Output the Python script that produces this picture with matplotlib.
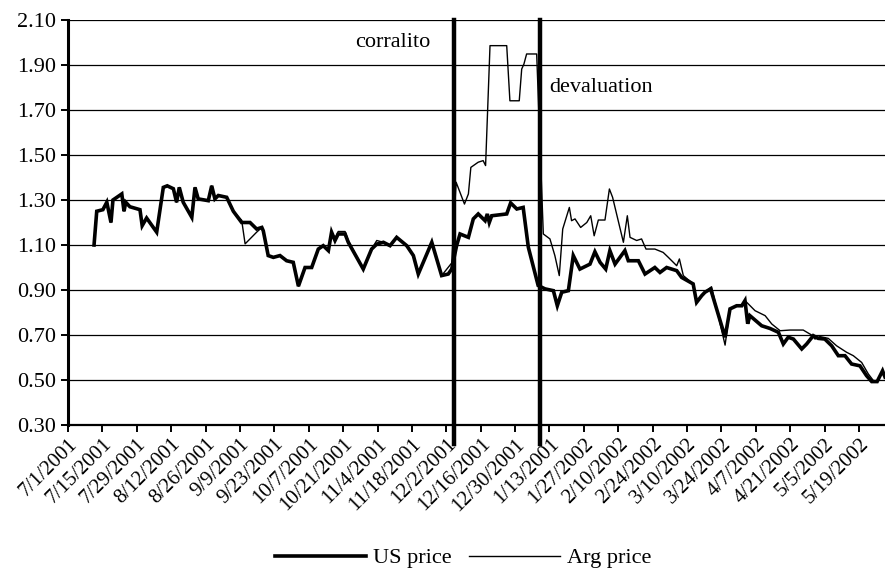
import matplotlib
matplotlib.use("Agg")
import matplotlib.pyplot as plt

plt.rcParams['font.family'] = ['Liberation Serif', 'DejaVu Serif']

# days counted from 7/1/2001
us_day = [10.6, 11.7, 14.2, 15.8, 17.5, 18.3, 21.9, 22.8, 23.5, 25.2, 29.3, 30.2, 32.0,
          36.1, 38.8, 40.4, 42.9, 44.2, 45.3, 46.9, 50.4, 51.7, 53.0, 57.1, 58.5, 59.8,
          61.2, 64.6, 67.3, 70.7, 74.1, 76.8, 78.9, 79.5, 81.5, 83.6, 86.3, 89.0, 91.7,
          93.8, 96.5, 99.2, 101.9, 103.9, 106.0, 107.3, 108.7, 110.0, 112.8, 114.1,
          120.2, 123.6, 125.7, 128.4, 131.1, 133.8, 137.9, 140.6, 142.6, 148.1, 152.1,
          154.8, 156.2, 158.2, 159.6, 163.0, 165.0, 167.0, 169.8, 170.7, 171.5, 172.5,
          178.6, 180.2, 182.7, 185.3, 187.4, 191.4, 194.2, 197.6, 199.2, 201.0, 203.7,
          205.7, 208.4, 212.5, 214.5, 216.6, 218.9, 220.6, 222.7, 226.7, 228.1, 232.2,
          234.9, 238.9, 241.0, 243.7, 247.8, 249.8, 254.5, 255.9, 258.0, 259.3, 261.6,
          267.5, 269.5, 272.2, 274.3, 275.6, 276.7, 277.6, 282.4, 285.8, 289.2, 291.2,
          293.2, 295.3, 298.7, 300.7, 303.4, 305.4, 308.1, 310.9, 313.6, 316.3, 319.0,
          322.4, 325.1, 327.2, 329.4, 331.6, 332.6]
us_price = [1.10, 1.25, 1.257, 1.29, 1.20, 1.30, 1.327, 1.25, 1.29, 1.27, 1.257, 1.186, 1.22,
            1.157, 1.356, 1.363, 1.35, 1.29, 1.356, 1.29, 1.223, 1.356, 1.305, 1.297, 1.363,
            1.305, 1.32, 1.312, 1.25, 1.20, 1.20, 1.171, 1.178, 1.163, 1.053, 1.045, 1.053,
            1.03, 1.023, 0.917, 1.00, 1.00, 1.082, 1.097, 1.075, 1.157, 1.12, 1.149, 1.149,
            1.112, 0.993, 1.082, 1.104, 1.112, 1.097, 1.134, 1.097, 1.053, 0.971, 1.112,
            0.964, 0.971, 0.993, 1.097, 1.149, 1.134, 1.216, 1.238, 1.208, 1.238, 1.20,
            1.23, 1.238, 1.287, 1.26, 1.267, 1.09, 0.92, 0.905, 0.897, 0.83, 0.89, 0.897,
            1.053, 0.993, 1.015, 1.07, 1.023, 0.993, 1.075, 1.015, 1.075, 1.03, 1.03,
            0.971, 1.00, 0.978, 1.00, 0.986, 0.956, 0.927, 0.845, 0.875, 0.89, 0.905,
            0.69, 0.816, 0.83, 0.83, 0.853, 0.75, 0.786, 0.741, 0.729, 0.712, 0.66,
            0.69, 0.682, 0.638, 0.66, 0.697, 0.685, 0.682, 0.652, 0.608, 0.608, 0.571,
            0.563, 0.519, 0.493, 0.493, 0.541, 0.513]

arg_day = [10.6, 11.7, 14.2, 15.8, 17.5, 18.3, 21.9, 22.8, 23.5, 25.2, 29.3, 30.2, 32.0,
           36.1, 38.8, 40.4, 42.9, 44.2, 45.3, 46.9, 50.4, 51.7, 53.0, 57.1, 58.5, 59.8,
           61.2, 64.6, 67.3, 70.7, 72.1, 76.8, 78.9, 79.5, 81.5, 83.6, 86.3, 89.0, 91.7,
           93.8, 96.5, 99.2, 101.9, 103.9, 106.0, 107.3, 108.7, 110.0, 112.8, 114.1,
           120.2, 123.6, 125.7, 128.4, 131.1, 133.8, 137.9, 140.6, 142.6, 148.1, 152.1,
           156.2, 158.0, 161.4, 163.0, 164.0, 167.0, 169.0, 170.0, 171.8, 178.6, 179.9,
           183.7, 184.7, 185.6, 186.7, 190.8, 193.5, 196.2, 198.2, 200.0, 201.4, 204.1,
           205.0, 206.4, 208.7, 211.2, 212.8, 214.2, 215.9, 218.6, 220.4, 221.7, 226.1,
           227.7, 228.8, 231.5, 233.5, 235.3, 238.9, 242.3, 244.4, 247.8, 248.9, 250.5,
           254.5, 255.9, 258.0, 259.3, 262.0, 267.5, 269.5, 272.2, 274.3, 275.6, 279.7,
           283.8, 286.5, 289.9, 293.9, 299.3, 302.7, 304.1, 306.1, 309.5, 312.9, 317.0,
           319.7, 323.1, 325.8, 327.9, 329.4, 331.6, 332.6]
arg_price = [1.10, 1.25, 1.257, 1.29, 1.20, 1.30, 1.327, 1.25, 1.29, 1.27, 1.257, 1.186, 1.22,
             1.157, 1.356, 1.363, 1.35, 1.29, 1.356, 1.29, 1.223, 1.356, 1.305, 1.297, 1.363,
             1.305, 1.32, 1.312, 1.25, 1.21, 1.105, 1.157, 1.178, 1.163, 1.053, 1.045, 1.053,
             1.03, 1.023, 0.917, 1.00, 1.00, 1.082, 1.097, 1.075, 1.16, 1.13, 1.16, 1.16,
             1.12, 0.993, 1.082, 1.12, 1.112, 1.097, 1.134, 1.097, 1.053, 0.971, 1.112,
             0.964, 1.02, 1.379, 1.282, 1.327, 1.445, 1.468, 1.475, 1.453, 1.986, 1.986,
             1.741, 1.741, 1.882, 1.904, 1.949, 1.949, 1.149, 1.127, 1.053, 0.964, 1.171,
             1.267, 1.208, 1.216, 1.178, 1.20, 1.23, 1.141, 1.211, 1.211, 1.349, 1.312,
             1.112, 1.23, 1.134, 1.12, 1.127, 1.082, 1.082, 1.067, 1.045, 1.008, 1.038,
             0.964, 0.927, 0.845, 0.875, 0.89, 0.914, 0.655, 0.816, 0.83, 0.83, 0.853,
             0.808, 0.786, 0.749, 0.719, 0.722, 0.722, 0.70, 0.682, 0.693, 0.685, 0.652,
             0.623, 0.608, 0.578, 0.527, 0.497, 0.493, 0.541, 0.513]

tick_days = list(range(0, 323, 14))
tick_labels = ["7/1/2001", "7/15/2001", "7/29/2001", "8/12/2001", "8/26/2001", "9/9/2001",
               "9/23/2001", "10/7/2001", "10/21/2001", "11/4/2001", "11/18/2001", "12/2/2001",
               "12/16/2001", "12/30/2001", "1/13/2001", "1/27/2002", "2/10/2002", "2/24/2002",
               "3/10/2002", "3/24/2002", "4/7/2002", "4/21/2002", "5/5/2002", "5/19/2002"]
y_ticks = [0.30, 0.50, 0.70, 0.90, 1.10, 1.30, 1.50, 1.70, 1.90, 2.10]

events = [("corralito", 157.1), ("devaluation", 192.3)]

fig = plt.figure(figsize=(8.85, 5.78), dpi=100)
ax = fig.add_axes([68 / 885, 153 / 578, 1 - 68 / 885, 405 / 578])

ax.plot(us_day, us_price, color="black", lw=2.6, solid_joinstyle="miter", label="US price", zorder=3)
ax.plot(arg_day, arg_price, color="black", lw=1.0, label="Arg price", zorder=4)

for name, d in events:
    ax.plot([d, d], [0.215, 2.10], color="black", lw=3.2, clip_on=False, zorder=5)

ax.text(147.4, 2.0, "corralito", fontsize=16, ha="right", va="center")
ax.text(195.8, 1.80, "devaluation", fontsize=16, ha="left", va="center")

ax.set_xlim(0, 332.6)
ax.set_ylim(0.30, 2.10)
ax.set_yticks(y_ticks)
ax.set_yticklabels([f"{v:.2f}" for v in y_ticks], fontsize=16)
ax.set_xticks(tick_days)
ax.set_xticklabels(tick_labels, fontsize=15, rotation=45, ha="right", rotation_mode="anchor")

ax.yaxis.grid(True, color="black", lw=0.9)
ax.set_axisbelow(True)
for s in ["top", "right"]:
    ax.spines[s].set_visible(False)
ax.spines["left"].set_linewidth(2.2)
ax.spines["bottom"].set_linewidth(1.6)
ax.tick_params(axis="both", direction="out", length=5, width=1.4, colors="black")
ax.tick_params(axis="x", pad=2)

fig.legend(loc="center", bbox_to_anchor=(463 / 885, 1 - 558 / 578), ncol=2, frameon=False,
           fontsize=16, handlelength=4.1, handletextpad=0.3, columnspacing=0.8)

fig.savefig("out.png", dpi=100)
